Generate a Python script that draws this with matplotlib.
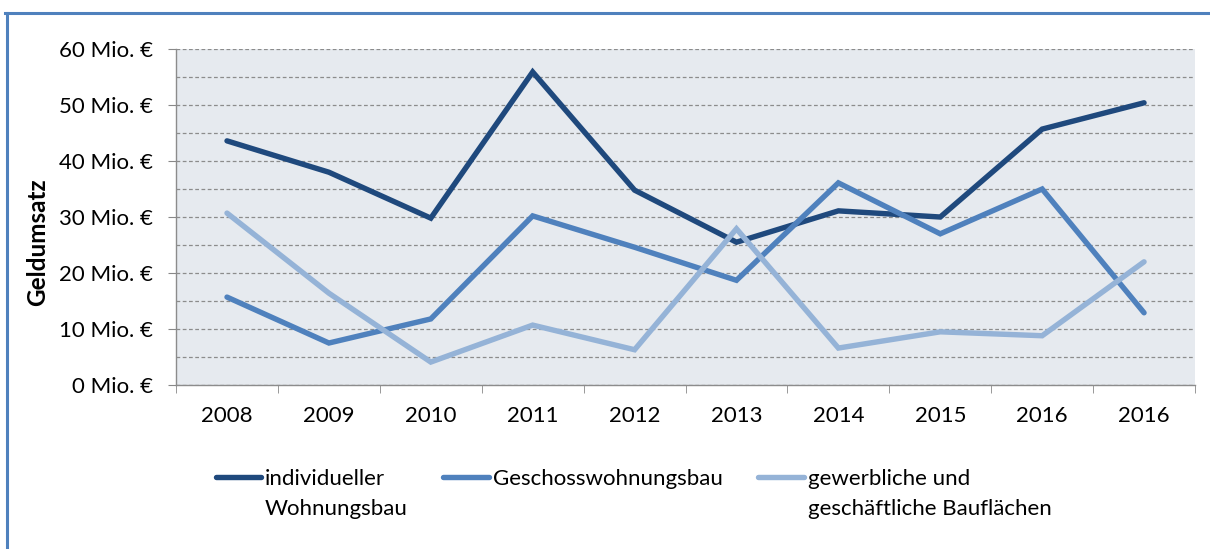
import numpy as np
import matplotlib.pyplot as plt
from matplotlib.lines import Line2D
from matplotlib.legend_handler import HandlerLine2D

# data
years = ['2008', '2009', '2010', '2011', '2012', '2013', '2014', '2015', '2016', '2016']
individuell = [43.6, 38.0, 29.8, 55.9, 34.8, 25.5, 31.1, 30.0, 45.7, 50.4]
geschoss = [15.7, 7.5, 11.8, 30.2, 24.6, 18.7, 36.1, 27.0, 35.0, 12.9]
gewerbe = [30.7, 16.4, 4.1, 10.7, 6.3, 27.9, 6.6, 9.5, 8.8, 22.0]
labels = ['individueller\nWohnungsbau', 'Geschosswohnungsbau\n ',
          'gewerbliche und\ngeschäftliche Bauflächen']
colors = ['#1f497d', '#4f81bd', '#95b3d7']

FS = 16
LSP = 1.6
plt.rcParams['font.family'] = ['Lato', 'DejaVu Sans']


class TopHandler(HandlerLine2D):
    # put the legend line next to the first text line, not the middle
    def create_artists(self, legend, orig_handle, xdescent, ydescent,
                       width, height, fontsize, trans):
        arts = super().create_artists(legend, orig_handle, xdescent, ydescent,
                                      width, height, fontsize, trans)
        for a in arts:
            a.set_ydata(np.asarray(a.get_ydata()) + fontsize * LSP * 0.5)
        return arts


fig = plt.figure(figsize=(12.1, 5.49), dpi=100)
ax = fig.add_axes([0.1455, 0.2987, 0.8421, 0.612])
ax.set_facecolor('#e6eaef')

x = range(len(years))
for vals, lab, c in zip([individuell, geschoss, gewerbe], labels, colors):
    ax.plot(x, vals, color=c, lw=3.9, label=lab, solid_capstyle='round',
            solid_joinstyle='miter')

ax.set_xlim(-0.5, len(years) - 0.5)
ax.set_ylim(0, 60)
ax.set_yticks(range(0, 61, 10))
ax.set_yticklabels(['%d Mio. €' % v for v in range(0, 61, 10)])
ax.set_yticks(range(5, 60, 10), minor=True)
ax.set_xticks(list(x))
ax.set_xticklabels(years)
ax.set_xticks([i - 0.5 for i in range(len(years) + 1)], minor=True)

ax.tick_params(axis='y', which='major', length=5.8, color='#888888',
               labelsize=FS, pad=11)
ax.tick_params(axis='y', which='minor', length=0)
ax.tick_params(axis='x', which='major', length=0, labelsize=FS, pad=15)
ax.tick_params(axis='x', which='minor', length=5.8, color='#888888')

ax.grid(axis='y', which='both', color='#8c8c8c', linestyle=(0, (3, 2)), lw=0.9)
ax.set_axisbelow(True)
for s in ['top', 'right']:
    ax.spines[s].set_visible(False)
for s in ['left', 'bottom']:
    ax.spines[s].set_color('#8c8c8c')
    ax.spines[s].set_linewidth(1.0)

ax.set_ylabel('Geldumsatz', fontsize=17.5, fontweight='bold')
ax.yaxis.set_label_coords(-0.125, 0.425)

leg = ax.legend(loc='upper left', bbox_to_anchor=(0.03, -0.225), ncol=3,
                frameon=False, fontsize=FS, handlelength=2.03,
                handletextpad=0.18, columnspacing=1.62, borderaxespad=0,
                handler_map={Line2D: TopHandler()})
for t in leg.get_texts():
    t.set_linespacing(LSP)

# blue frame at left and top of the figure
fig.add_artist(Line2D([0.0055, 0.0055], [0, 0.977], color='#4f81bd', lw=2.2,
                      transform=fig.transFigure))
fig.add_artist(Line2D([0.0045, 1], [0.977, 0.977], color='#4f81bd', lw=2.2,
                      transform=fig.transFigure))

fig.savefig('out.png', dpi=100)
